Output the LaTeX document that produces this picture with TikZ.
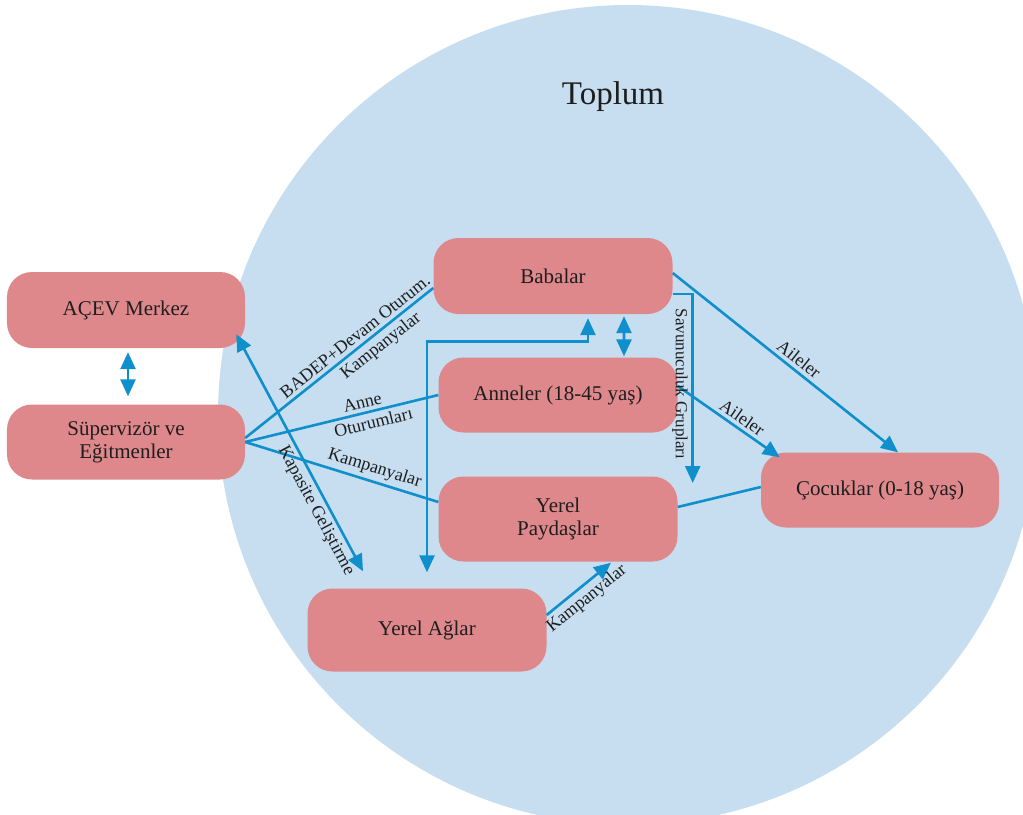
\documentclass[tikz,border=0pt]{standalone}
\usepackage{fontspec}
\setmainfont{Liberation Serif}
\usetikzlibrary{arrows.meta}
\definecolor{pinkbox}{HTML}{DF888C}
\definecolor{bluebg}{HTML}{C6DEF0}
\definecolor{arrblue}{HTML}{0F8FCC}
\definecolor{txt}{HTML}{1E1E1E}
\begin{document}
\begin{tikzpicture}[x=1bp,y=-1bp,
  box/.style={fill=pinkbox, rounded corners=25bp, minimum width=238bp,
    minimum height=76bp, inner sep=0pt, align=center, text=txt,
    font=\fontsize{21bp}{23bp}\selectfont},
  conn/.style={draw=arrblue, line width=2.6bp},
  onetip/.style={-{Triangle[length=17bp,width=15bp]}},
  twotips/.style={{Triangle[length=17bp,width=15bp]}-{Triangle[length=17bp,width=15bp]}},
  lab/.style={font=\fontsize{18bp}{20bp}\selectfont, text=txt, sloped, inner sep=3.5bp},
]
\useasboundingbox (0,0) rectangle (1023,815);
\begin{scope}
\clip (0,0) rectangle (1023,815);
\fill[bluebg] (628,415) circle[radius=410];
\end{scope}

\node[font=\fontsize{33bp}{36bp}\selectfont, text=txt] (toplum) at (613,97) {Toplum};

\node[box] (acev) at (126,310) {AÇEV Merkez};
\node[box, minimum height=75bp] (sup) at (126,442) {Süpervizör ve\\Eğitmenler};
\node[box, minimum width=239bp] (bab) at (553,276) {Babalar};
\node[box, minimum width=239bp, minimum height=75bp] (ann) at (558,395) {Anneler (18-45 yaş)};
\node[box, minimum width=239bp, minimum height=85bp] (yp) at (558,519) {Yerel\\Paydaşlar};
\node[box, minimum width=239bp, minimum height=83bp] (ya) at (427,630) {Yerel Ağlar};
\node[box, minimum height=75bp] (coc) at (880,490) {Çocuklar (0-18 yaş)};

% Supervizor links
\draw[conn] ([yshift=4bp]sup.east) -- ([yshift=-12bp]bab.west)
  node[lab, above, pos=0.62] {BADEP+Devam Oturum.}
  node[lab, below, pos=0.68] {Kampanyalar};
\draw[conn] (sup.east) -- (ann.west)
  node[lab, above, pos=0.62] {Anne}
  node[lab, below, pos=0.65] {Oturumları};
\draw[conn] (sup.east) -- ([yshift=17bp]yp.west)
  node[lab, above, pos=0.65] {Kampanyalar};

% ACEV <-> Supervizor
\draw[conn, twotips] ([xshift=2bp,yshift=-4bp]acev.south) -- ([xshift=2bp,yshift=8bp]sup.north);

% Kapasite Gelistirme
\draw[conn, twotips] ([xshift=-9bp,yshift=14bp]acev.south east) -- ([xshift=-64bp,yshift=17bp]ya.north)
  node[lab, below, pos=0.72] {Kapasite Geliştirme};

% Babalar <-> Anneler
\draw[conn, twotips] ([xshift=71bp,yshift=-2bp]bab.south) -- ([xshift=66bp,yshift=1bp]ann.north);

% Yerel Aglar <-> Babalar
\draw[conn, twotips] ([yshift=16bp]ya.north) -- ++(0,-231) -| ([xshift=35bp,yshift=-4bp]bab.south);

% Aileler
\draw[conn, onetip] ([yshift=3bp]bab.east) -- ([xshift=18bp]coc.north)
  node[lab, above, pos=0.53] {Aileler};
\draw[conn, onetip] ([yshift=9bp]ann.east) -- ([xshift=19bp,yshift=-5bp]coc.north west)
  node[lab, above, pos=0.57] {Aileler};

% Savunuculuk Gruplari
\draw[conn, onetip] ([yshift=-18bp]bab.east) -- ++(20,0) coordinate (savc) -- ++(0,189);
\node[font=\fontsize{17bp}{20bp}\selectfont, text=txt, rotate=-90] (savlab) at (680,384) {Savunuculuk Grupları};

% Yerel Paydaslar - Cocuklar
\draw[conn] ([yshift=12bp]yp.east) -- ([yshift=3bp]coc.west);

% Yerel Aglar -> Yerel Paydaslar
\draw[conn, onetip] ([yshift=15bp]ya.east) -- ([xshift=53bp,yshift=-1bp]yp.south)
  node[lab, below, pos=0.5] {Kampanyalar};
\end{tikzpicture}
\end{document}
